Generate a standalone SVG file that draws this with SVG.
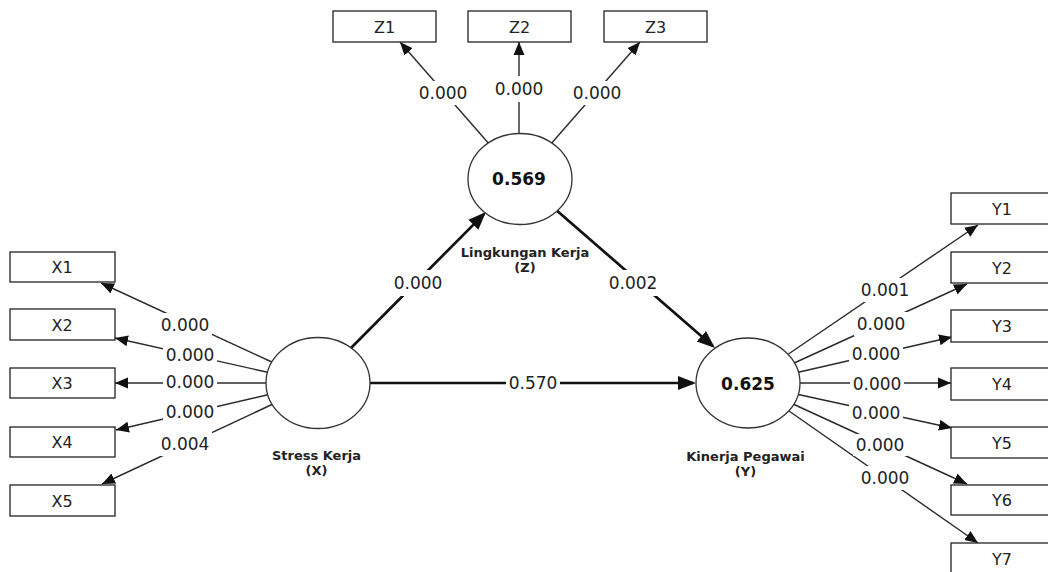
<svg xmlns="http://www.w3.org/2000/svg" width="1048" height="572" viewBox="0 0 1048 572">
<style>
  .box{fill:#fff;stroke:#222;stroke-width:1.3}
  .lat{fill:#fff;stroke:#333;stroke-width:1.3}
  .thin{stroke:#2a2a2a;stroke-width:1.4;fill:none;marker-end:url(#ah)}
  .thick{stroke:#111;stroke-width:2.7;fill:none;marker-end:url(#ahb)}
  .bg{fill:#fff}
  .v{font-family:"DejaVu Sans",sans-serif;font-size:17px;fill:#222;text-anchor:middle}
  .bl{font-family:"DejaVu Sans",sans-serif;font-size:16px;fill:#222;text-anchor:middle}
  .val{font-family:"DejaVu Sans",sans-serif;font-size:17px;font-weight:bold;fill:#111;text-anchor:middle}
  .nm{font-family:"DejaVu Sans",sans-serif;font-size:13px;font-weight:bold;fill:#222;text-anchor:middle}
</style>
<defs>
  <marker id="ah" markerUnits="userSpaceOnUse" markerWidth="14" markerHeight="12" viewBox="0 0 14 12" refX="13" refY="6" orient="auto">
    <path d="M0,0.5 L13,6 L0,11.5 z" fill="#111"/>
  </marker>
  <marker id="ahb" markerUnits="userSpaceOnUse" markerWidth="18" markerHeight="16" viewBox="0 0 18 16" refX="15" refY="8" orient="auto">
    <path d="M0,1 L18,8 L0,15 z" fill="#111"/>
  </marker>
</defs>
<rect width="1048" height="572" fill="#fff"/>
<g id="connectors">
  <line class="thin" x1="274" y1="363" x2="101" y2="283"/>
  <line class="thin" x1="271" y1="373" x2="115" y2="338"/>
  <line class="thin" x1="269" y1="383" x2="115" y2="383"/>
  <line class="thin" x1="271" y1="394" x2="116" y2="430"/>
  <line class="thin" x1="273" y1="404" x2="102" y2="484"/>
  <line class="thin" x1="490" y1="145" x2="400" y2="42"/>
  <line class="thin" x1="519" y1="137" x2="519" y2="42"/>
  <line class="thin" x1="550" y1="145" x2="640" y2="42"/>
  <line class="thin" x1="787" y1="355" x2="978" y2="225"/>
  <line class="thin" x1="792" y1="364" x2="967" y2="284"/>
  <line class="thin" x1="795" y1="373" x2="952" y2="337"/>
  <line class="thin" x1="797" y1="383" x2="951" y2="383"/>
  <line class="thin" x1="796" y1="394" x2="952" y2="428"/>
  <line class="thin" x1="793" y1="404" x2="967" y2="484"/>
  <line class="thin" x1="789" y1="411" x2="978" y2="543"/>
  <line class="thick" x1="350" y1="349" x2="483.9" y2="214.1"/>
  <line class="thick" x1="555" y1="209" x2="712.7" y2="346"/>
  <line class="thick" x1="368" y1="383" x2="693" y2="383"/>
  <g class="bg">
    <rect x="158" y="313" width="54" height="24"/>
    <rect x="163" y="343" width="54" height="24"/>
    <rect x="163" y="370" width="54" height="24"/>
    <rect x="163" y="400" width="54" height="24"/>
    <rect x="158" y="432" width="54" height="24"/>
    <rect x="416" y="81" width="54" height="24"/>
    <rect x="492" y="76" width="54" height="26"/>
    <rect x="570" y="81" width="54" height="24"/>
    <rect x="858" y="278" width="54" height="24"/>
    <rect x="854" y="312" width="54" height="24"/>
    <rect x="849" y="342" width="54" height="24"/>
    <rect x="850" y="372" width="54" height="24"/>
    <rect x="849" y="401" width="54" height="24"/>
    <rect x="853" y="434" width="54" height="22"/>
    <rect x="858" y="466" width="54" height="24"/>
    <rect x="391" y="270" width="54" height="26"/>
    <rect x="606" y="270" width="54" height="26"/>
    <rect x="506" y="371" width="54" height="24"/>
  </g>
  <g>
    <text class="v" x="185" y="331">0.000</text>
    <text class="v" x="190" y="361">0.000</text>
    <text class="v" x="190" y="388">0.000</text>
    <text class="v" x="190" y="418">0.000</text>
    <text class="v" x="185" y="450">0.004</text>
    <text class="v" x="443" y="99">0.000</text>
    <text class="v" x="519" y="95">0.000</text>
    <text class="v" x="597" y="99">0.000</text>
    <text class="v" x="885" y="296">0.001</text>
    <text class="v" x="881" y="330">0.000</text>
    <text class="v" x="876" y="360">0.000</text>
    <text class="v" x="877" y="390">0.000</text>
    <text class="v" x="876" y="419">0.000</text>
    <text class="v" x="880" y="451">0.000</text>
    <text class="v" x="885" y="484">0.000</text>
    <text class="v" x="418" y="289">0.000</text>
    <text class="v" x="633" y="289">0.002</text>
    <text class="v" x="533" y="389">0.570</text>
  </g>
</g>
<g id="node-X">
  <ellipse class="lat" cx="318" cy="383" rx="52" ry="45.5"/>
  <text class="nm" x="316.5" y="460">Stress Kerja</text>
  <text class="nm" x="316.5" y="475">(X)</text>
</g>
<g id="node-Z">
  <ellipse class="lat" cx="520" cy="179" rx="52" ry="45.5"/>
  <text class="val" x="519" y="185">0.569</text>
  <text class="nm" x="525" y="257">Lingkungan Kerja</text>
  <text class="nm" x="525" y="272">(Z)</text>
</g>
<g id="node-Y">
  <ellipse class="lat" cx="748" cy="383" rx="52" ry="45"/>
  <text class="val" x="748" y="390">0.625</text>
  <text class="nm" x="745.5" y="461">Kinerja Pegawai</text>
  <text class="nm" x="745.5" y="476">(Y)</text>
</g>
<g id="node-Z1"><rect class="box" x="333" y="11" width="103" height="31"/><text class="bl" x="384.5" y="32.5">Z1</text></g>
<g id="node-Z2"><rect class="box" x="468" y="11" width="103" height="31"/><text class="bl" x="519.5" y="32.5">Z2</text></g>
<g id="node-Z3"><rect class="box" x="604" y="11" width="103" height="31"/><text class="bl" x="655.5" y="32.5">Z3</text></g>
<g id="node-X1"><rect class="box" x="10" y="252" width="105" height="30"/><text class="bl" x="62" y="273">X1</text></g>
<g id="node-X2"><rect class="box" x="10" y="309" width="105" height="31"/><text class="bl" x="62" y="330.5">X2</text></g>
<g id="node-X3"><rect class="box" x="10" y="368" width="105" height="30"/><text class="bl" x="62" y="389">X3</text></g>
<g id="node-X4"><rect class="box" x="10" y="427" width="105" height="30"/><text class="bl" x="62" y="448">X4</text></g>
<g id="node-X5"><rect class="box" x="10" y="485" width="105" height="31"/><text class="bl" x="62" y="506.5">X5</text></g>
<g id="node-Y1"><rect class="box" x="951" y="193" width="104" height="31"/><text class="bl" x="1002" y="214.5">Y1</text></g>
<g id="node-Y2"><rect class="box" x="951" y="252" width="104" height="31"/><text class="bl" x="1002" y="273.5">Y2</text></g>
<g id="node-Y3"><rect class="box" x="951" y="310" width="104" height="32"/><text class="bl" x="1002" y="332">Y3</text></g>
<g id="node-Y4"><rect class="box" x="951" y="368" width="104" height="32"/><text class="bl" x="1002" y="390">Y4</text></g>
<g id="node-Y5"><rect class="box" x="951" y="427" width="104" height="31"/><text class="bl" x="1002" y="448.5">Y5</text></g>
<g id="node-Y6"><rect class="box" x="951" y="485" width="104" height="30"/><text class="bl" x="1002" y="506">Y6</text></g>
<g id="node-Y7"><rect class="box" x="951" y="543" width="104" height="31"/><text class="bl" x="1002" y="564.5">Y7</text></g>
</svg>
